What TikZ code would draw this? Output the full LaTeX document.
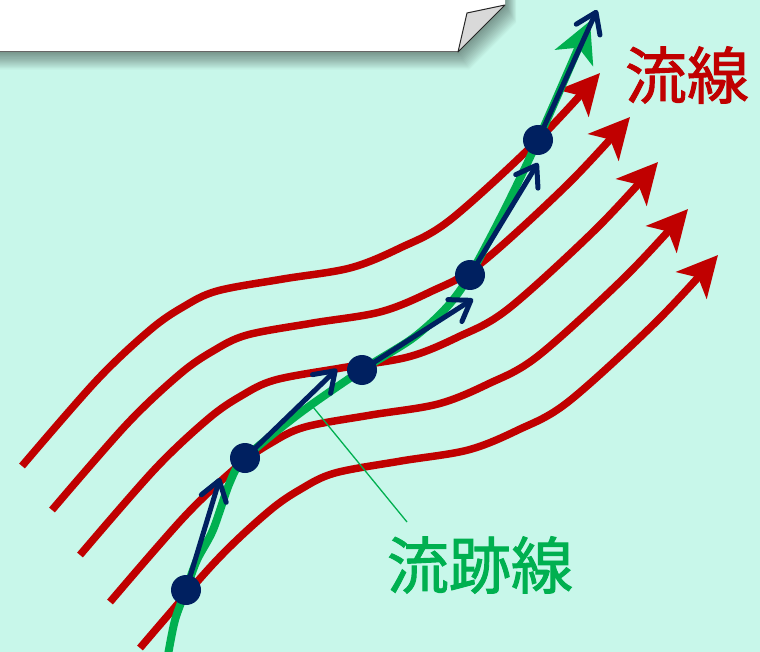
\documentclass[tikz,border=0pt]{standalone}
\usepackage{fontspec}
\newfontfamily\jp{Noto Sans CJK JP}[FakeBold=1.5]
\usetikzlibrary{arrows.meta}
\definecolor{bgc}{RGB}{200,247,234}
\definecolor{sred}{HTML}{C00000}
\definecolor{pgreen}{HTML}{00B050}
\definecolor{vblue}{HTML}{002060}
\tikzset{
  streamline/.style={draw=sred, line width=7.5pt, -{Stealth[length=40pt,width=40pt,inset=10pt]}},
  pathline/.style={draw=pgreen, line width=8pt, -{Stealth[length=40pt,width=41pt,inset=11pt]}},
  velarrow/.style={draw=vblue, line width=5pt, line cap=round, -{Straight Barb[length=19pt,width=26pt,round]}},
  particle/.style={circle, fill=vblue, minimum size=30pt, inner sep=0pt},
  lbl/.style={inner sep=0pt, font=\jp\fontsize{62}{62}\selectfont},
  leader/.style={draw=pgreen, line width=1.3pt},
}
\begin{document}
\begin{tikzpicture}[x=1pt,y=-1pt]
\useasboundingbox (0,0) rectangle (760,652);
\fill[bgc] (0,0) rectangle (760,652);
% note box with shadow and curled corner
\foreach \i in {1,...,16}{
  \fill[black, opacity=0.028, shift={(\i*0.7,\i*1.1)}] (-30,-30) -- (505,-30) -- (505,5) -- (458,52) -- (-30,52) -- cycle;
}
\fill[white] (-2,-2) -- (505,-2) -- (505,5) -- (458,52) -- (-2,52) -- cycle;
\draw[black!60, line width=1pt] (-2,52) -- (458,52);
\filldraw[fill=black!15, draw=black!85, line width=1pt, line join=round] (505,5) -- (467,13) -- (458,52) -- cycle;
% streamlines
\foreach \dx/\dy in {0/0,30/44,58/89,88/136,118/182}{
  \draw[streamline, shift={(\dx,\dy)}] plot[smooth, tension=0.55] coordinates {(22,466) (97,380) (150,330) (183,307) (217,291) (283,279) (350,268) (400,248) (450,220) (538,140) (600,73)};
}
% particle positions
\coordinate (p1) at (186,590);
\coordinate (p2) at (245,458);
\coordinate (p3) at (362,370);
\coordinate (p4) at (470,275);
\coordinate (p5) at (538,140);
% pathline
\draw[pathline] plot[smooth, tension=0.5] coordinates {(168,655) (175,620) (p1) (197,560) (213,530) (230,482) (p2) (300,413) (p3) (413,338) (447,307) (p4) (503,213) (p5) (590,21)};
% velocity arrows
\coordinate (t1) at (220,478);
\coordinate (t2) at (337,369);
\coordinate (t3) at (473,299);
\coordinate (t4) at (538,163);
\coordinate (t5) at (597,10);
\draw[velarrow] (p1) -- (t1);
\draw[velarrow] (p2) -- (t2);
\draw[velarrow] (p3) -- (t3);
\draw[velarrow] (p4) -- (t4);
\draw[velarrow] (p5) -- (t5);
% particles
\node[particle] (d1) at (p1) {};
\node[particle] (d2) at (p2) {};
\node[particle] (d3) at (p3) {};
\node[particle] (d4) at (p4) {};
\node[particle] (d5) at (p5) {};
% labels
\node[lbl, text=sred] (ls) at (687,75) {流線};
\node[lbl, text=pgreen] (lp) at (480,565) {流跡線};
\coordinate (lt) at (313,407);
\coordinate (le) at (407,522);
\draw[leader] (lt) -- (le);
\end{tikzpicture}
\end{document}
